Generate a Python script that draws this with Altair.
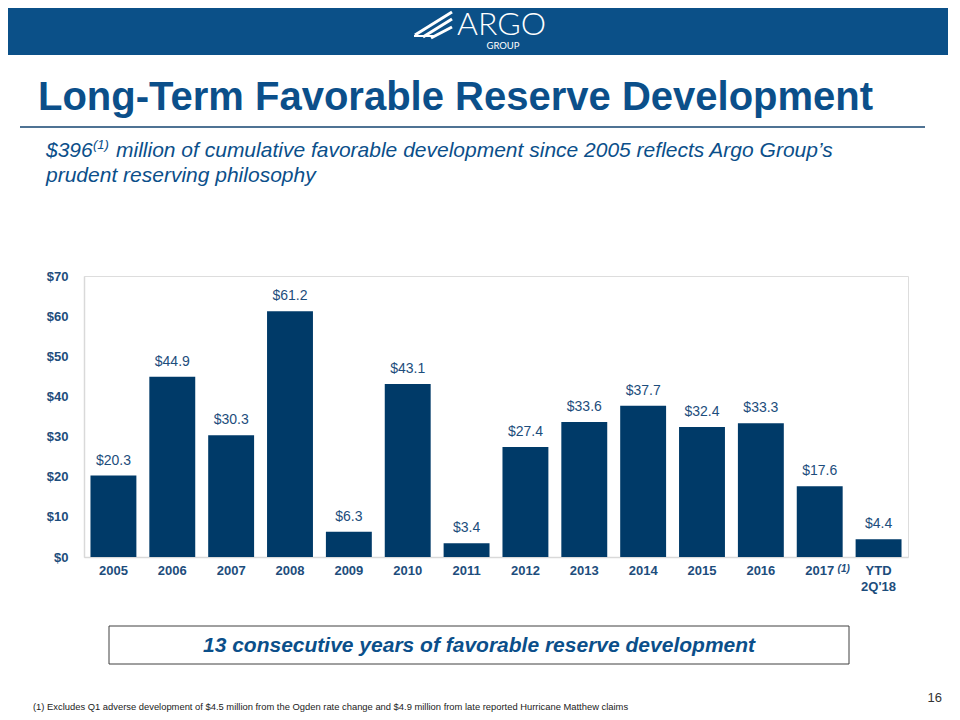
import altair as alt
import pandas as pd

# ---- data ----
years = ["2005", "2006", "2007", "2008", "2009", "2010", "2011", "2012",
         "2013", "2014", "2015", "2016", "2017", "YTD\n2Q'18"]
values = [20.3, 44.9, 30.3, 61.2, 6.3, 43.1, 3.4, 27.4, 33.6, 37.7, 32.4, 33.3, 17.6, 4.4]
y_ticks = [0, 10, 20, 30, 40, 50, 60, 70]

title_text = "Long-Term Favorable Reserve Development"
subtitle_1a = "$396"
subtitle_sup = "(1)"
subtitle_1b = "million of cumulative favorable development since 2005 reflects Argo Group\u2019s"
subtitle_2 = "prudent reserving philosophy"
box_text = "13 consecutive years of favorable reserve development"
footnote = ("(1) Excludes Q1 adverse development of $4.5 million from the Ogden rate change "
            "and $4.9 million from late reported Hurricane Matthew claims")
page_no = "16"

df = pd.DataFrame({
    "year": years,
    "value": values,
    "label": [f"${v:.1f}" for v in values],
})

FONT = "Liberation Sans"
NAVY = "#003a68"
TEXT_BLUE = "#0b4f8a"
LABEL_BLUE = "#1d4d7c"
HEADER = "#0b5088"

W, H = 824, 281

x_enc = alt.X("year:N", sort=years,
              scale=alt.Scale(paddingInner=0.22, paddingOuter=0.11),
              axis=alt.Axis(labels=False, ticks=False, title=None,
                            domainColor="#d9d9d9", domainWidth=1.5))

bars = alt.Chart(df).mark_bar(color=NAVY).encode(
    x=x_enc,
    y=alt.Y("value:Q", scale=alt.Scale(domain=[0, 70], nice=False),
            axis=alt.Axis(values=y_ticks, labelExpr="'$' + datum.value",
                          ticks=False, grid=False, title=None,
                          domainColor="#d9d9d9", domainWidth=1.5,
                          labelFont=FONT, labelFontSize=13, labelFontWeight="bold",
                          labelColor=LABEL_BLUE, labelPadding=16)),
)

value_labels = alt.Chart(df).mark_text(
    font=FONT, fontSize=14, color=LABEL_BLUE, baseline="bottom", dy=-8
).encode(x=alt.X("year:N", sort=years), y="value:Q", text="label:N")

x_labels = alt.Chart(df).mark_text(
    font=FONT, fontSize=13, fontWeight="bold", color=LABEL_BLUE,
    baseline="top", lineBreak="\n", lineHeight=16
).encode(x=alt.X("year:N", sort=years), y=alt.value(289), text="year:N")

sup_2017 = alt.Chart(df[df["year"] == "2017"]).mark_text(
    font=FONT, fontSize=10, fontWeight="bold", fontStyle="italic",
    color=LABEL_BLUE, baseline="middle", dx=24
).encode(x=alt.X("year:N", sort=years), y=alt.value(293), text=alt.value("(1)"))

one = alt.Data(values=[{}])


def txt(s, x, y, font=FONT, **kw):
    return alt.Chart(one).mark_text(font=font, **kw).encode(
        x=alt.value(x), y=alt.value(y), text=alt.value(s))


def rect(x, x2, y, y2, **kw):
    return alt.Chart(one).mark_rect(**kw).encode(
        x=alt.value(x), x2=alt.value(x2), y=alt.value(y), y2=alt.value(y2))


def rule(x, x2, y, y2, **kw):
    return alt.Chart(one).mark_rule(**kw).encode(
        x=alt.value(x), x2=alt.value(x2), y=alt.value(y), y2=alt.value(y2))


# plot origin is at page (84, 276)
header = rect(-90, 900, -290, -221, color=HEADER)
logo_lines = [
    rule(331, 368, -241, -264, color="white", strokeWidth=3),
    rule(339, 368, -239, -257, color="white", strokeWidth=3),
    rule(347, 368, -238, -249, color="white", strokeWidth=3),
    rule(330, 352, -240, -240, color="white", strokeWidth=2),
]
logo = txt("ARGO", 373, -241, font="Lato", fontWeight=300, fontSize=32, color="white",
           align="left", baseline="alphabetic")
logo_sub = txt("GROUP", 419, -227.5, font="Lato", fontSize=9.5, color="white",
               align="center", baseline="alphabetic")

title = txt(title_text, -46, -166, fontSize=40, fontWeight="bold", color=TEXT_BLUE,
            align="left", baseline="alphabetic")
title_rule = rule(-64, 841, -149, -149, color="#4f7394", strokeWidth=2)

sub1a = txt(subtitle_1a, -38, -119, fontSize=21, fontStyle="italic", color=TEXT_BLUE,
            align="left", baseline="alphabetic")
sub_sup = txt(subtitle_sup, 9, -127, fontSize=13, fontStyle="italic", color=TEXT_BLUE,
              align="left", baseline="alphabetic")
sub1b = txt(subtitle_1b, 32, -119, fontSize=21, fontStyle="italic", color=TEXT_BLUE,
            align="left", baseline="alphabetic")
sub2 = txt(subtitle_2, -38, -94, fontSize=21, fontStyle="italic", color=TEXT_BLUE,
           align="left", baseline="alphabetic")

box = rect(25, 765, 350, 388, fill="white", stroke="#404040", strokeWidth=1)
box_label = txt(box_text, 395, 370, fontSize=21, fontWeight="bold", fontStyle="italic",
                color=TEXT_BLUE, align="center", baseline="middle")

foot = txt(footnote, -51, 431, fontSize=9.4, color="#222222", align="left",
           baseline="middle")
page = txt(page_no, 858, 422, fontSize=13, color="#333333", align="right",
           baseline="middle")

chart = alt.layer(
    header, *logo_lines, logo, logo_sub, title, title_rule,
    sub1a, sub_sup, sub1b, sub2,
    bars, value_labels, x_labels, sup_2017,
    box, box_label, foot, page,
).properties(
    width=W, height=H,
    autosize=alt.AutoSizeParams(type="none"),
    padding={"left": 76, "top": 268, "right": 40, "bottom": 155},
).configure_view(stroke=None).configure(background="white")

chart.save("out.html", embed_options={"renderer": "svg", "actions": False})
